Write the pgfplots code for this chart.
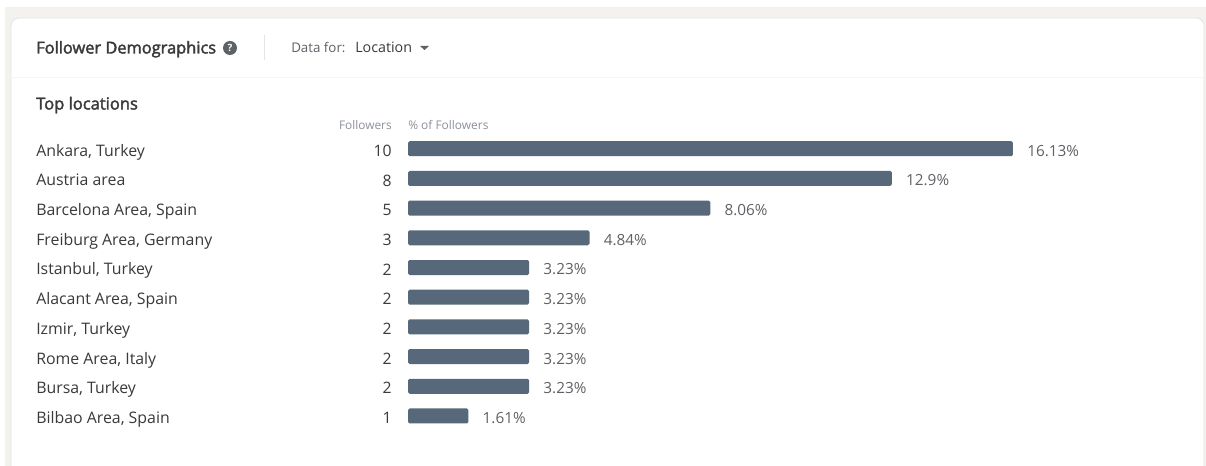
\documentclass[border=0pt]{standalone}
\usepackage{pgfplots}
\usepackage{pgfplotstable}
\pgfplotsset{compat=1.18}
\usepackage{fontspec}
\setmainfont{Open Sans}
\newfontfamily\semib[FakeBold=2.2]{Open Sans}
\definecolor{pagebg}{HTML}{F3F2EE}
\definecolor{barfill}{HTML}{56687A}
\definecolor{ink}{HTML}{3A3A3A}
\definecolor{softink}{HTML}{5E6266}
\definecolor{faint}{HTML}{8C9299}
\definecolor{rule}{HTML}{E4E4E2}
\definecolor{hairline}{HTML}{F6F5F3}
\newcommand{\fs}[1]{\fontsize{#1}{#1}\selectfont}

\pgfplotstableread[col sep=semicolon]{
row;name;followers;share
0;Ankara, Turkey;10;16.13
1;Austria area;8;12.9
2;Barcelona Area, Spain;5;8.06
3;Freiburg Area, Germany;3;4.84
4;Istanbul, Turkey;2;3.23
5;Alacant Area, Spain;2;3.23
6;Izmir, Turkey;2;3.23
7;Rome Area, Italy;2;3.23
8;Bursa, Turkey;2;3.23
9;Bilbao Area, Spain;1;1.61
}\locations

\begin{document}
\begin{tikzpicture}
\path[use as bounding box] (0,0) rectangle (904.5pt,-349.5pt);
% card and header, in pixel units
\begin{scope}[x=0.75pt,y=-0.75pt]
  \fill[white] (0,0) rectangle (1206,466);
  \fill[pagebg] (5,7) rectangle (1206,466);
  \fill[white,rounded corners=6pt,draw=rule,line width=0.6pt] (11,18) rectangle (1204,480);
  \fill[white] (5,466) rectangle (1206,470);
  \draw[hairline,line width=0.75pt] (12,78) -- (1203,78);
  \draw[rule,line width=0.75pt] (264,35) -- (264,60);
  \node[anchor=base west,inner sep=0,text=ink] at (36,53.5) {\fs{12.3pt}\semib Follower Demographics};
  \fill[softink] (230,48) circle (7);
  \node[text=white,inner sep=0] at (230,48) {\fs{7.5pt}\bfseries ?};
  \node[anchor=base west,inner sep=0,text=softink] at (291,53) {\fs{10pt}Data for:};
  \node[anchor=base west,inner sep=0,text=ink] at (355,53) {\fs{10.7pt}Location};
  \fill[softink] (420,46) -- (429,46) -- (424.5,50) -- cycle;
  \node[anchor=base west,inner sep=0,text=ink] at (36,109.5) {\fs{12.4pt}\semib Top locations};
  \node[anchor=base east,inner sep=0,text=faint] at (392,129.5) {\fs{8.9pt}Followers};
  \node[anchor=base west,inner sep=0,text=faint] at (408,129.5) {\fs{8.95pt}\% of Followers};
\end{scope}
\begin{axis}[
  at={(306pt,-349.5pt)},anchor=south west,
  scale only axis,width=598.5pt,height=349.5pt,
  xmin=0,xmax=21.276,
  ymin=-5.007,ymax=10.684,
  y dir=reverse,
  clip=false,
  axis line style={draw=none},
  major tick style={draw=none},
  xtick=\empty,
  ytick={0,...,9},
  yticklabels from table={\locations}{name},
  yticklabel style={anchor=base west,xshift=-279pt,yshift=-5.6pt,inner sep=0,text=ink,font=\fs{11.9pt}},
]
  % percentage bars
  \addplot[xbar,bar shift=0pt,bar width=11.25pt,fill=barfill,draw=none,rounded corners=1.2pt,
    point meta=explicit symbolic,
    nodes near coords={\pgfplotspointmeta\%},
    nodes near coords align={anchor=west},
    every node near coord/.append style={inner sep=0,xshift=10.5pt,yshift=-1.5pt,text=softink,font=\fs{11.5pt}},
  ] table[col sep=semicolon,x=share,y=row,meta=share] {\locations};
  % follower counts, right-aligned left of the bars
  \addplot[draw=none,mark=none,
    point meta=explicit symbolic,
    nodes near coords={\pgfplotspointmeta},
    nodes near coords align={anchor=east},
    every node near coord/.append style={inner sep=0,xshift=-12pt,yshift=-1.5pt,text=ink,font=\fs{11.8pt}},
  ] table[x expr=0,y=row,meta=followers] {\locations};
\end{axis}
\end{tikzpicture}
\end{document}
